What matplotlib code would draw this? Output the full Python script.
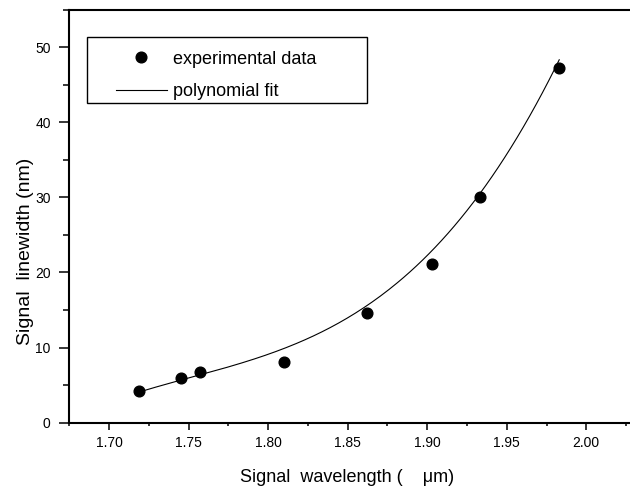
import numpy as np
import matplotlib
matplotlib.use("Agg")
import matplotlib.pyplot as plt
from matplotlib.patches import Rectangle
from matplotlib.ticker import MultipleLocator, FormatStrFormatter

# measured points
wavelength = [1.719, 1.745, 1.757, 1.810, 1.862, 1.903, 1.933, 1.983]
linewidth = [4.2, 5.9, 6.7, 8.1, 14.6, 21.1, 30.1, 47.2]

# fit curve
fit_x = [1.720, 1.757, 1.810, 1.839, 1.851, 1.862, 1.881, 1.903, 1.923, 1.933, 1.956, 1.983]
fit_y = [4.3, 6.1, 9.7, 12.9, 14.4, 15.7, 18.4, 22.8, 27.5, 30.6, 37.7, 48.4]

plt.rcParams["font.family"] = ["Liberation Sans", "DejaVu Sans"]

W, H = 630, 487
fig = plt.figure(figsize=(W / 100, H / 100), dpi=100)
ax = fig.add_axes([69 / W, 1 - 422.7 / H, (640 - 69) / W, (422.7 - 9.5) / H])

coef = np.polyfit(fit_x, fit_y, 3)
xs = np.linspace(fit_x[0], fit_x[-1], 200)
ax.plot(xs, np.polyval(coef, xs), color="black", lw=0.8, label="polynomial fit")
ax.plot(wavelength, linewidth, "o", color="black", ms=7.7, label="experimental data")

ax.set_xlim(1.6747, 2.0338)
ax.set_ylim(0, 55)
ax.xaxis.set_major_locator(MultipleLocator(0.05))
ax.xaxis.set_minor_locator(MultipleLocator(0.025))
ax.xaxis.set_major_formatter(FormatStrFormatter("%.2f"))
ax.yaxis.set_major_locator(MultipleLocator(10))
ax.yaxis.set_minor_locator(MultipleLocator(5))

for s in ax.spines.values():
    s.set_linewidth(1.5)
ax.tick_params(axis="x", which="major", length=4.8, width=1.1, pad=5, labelsize=10)
ax.tick_params(axis="x", which="minor", length=2.4, width=1.1)
ax.tick_params(axis="y", which="major", length=7.2, width=1.1, pad=6, labelsize=10)
ax.tick_params(axis="y", which="minor", length=4.3, width=1.1)

ax.set_xlabel("Signal  wavelength (    \u03bcm)", fontsize=13, va="center")
ax.xaxis.set_label_coords((347 - 69) / 571, (422.7 - 477) / 413.2)
ax.set_ylabel("Signal  linewidth (nm)", fontsize=14, va="center")
ax.yaxis.set_label_coords((26 - 69) / 571, (422.7 - 251.7) / 413.2)

h, l = ax.get_legend_handles_labels()
ax.legend(h[::-1], l[::-1], frameon=False, loc="center left",
          bbox_to_anchor=(116 / W, 1 - 75.5 / H), bbox_transform=fig.transFigure,
          borderpad=0, borderaxespad=0, handlelength=2.8, handletextpad=0.35,
          labelspacing=0.87, fontsize=13)
fig.patches.append(Rectangle((87 / W, 1 - 103 / H), 280 / W, 66 / H,
                             transform=fig.transFigure, fill=False,
                             edgecolor="black", lw=1.0))

fig.savefig("out.png", dpi=100)
